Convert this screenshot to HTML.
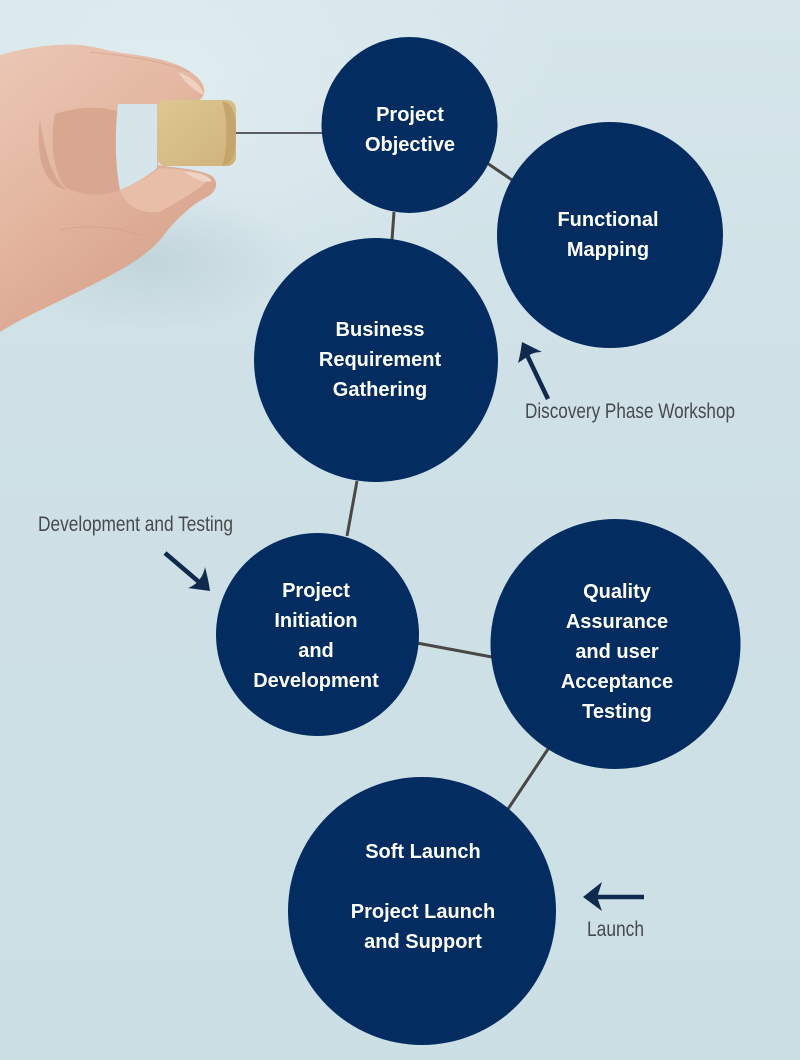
<!DOCTYPE html>
<html>
<head>
<meta charset="utf-8">
<style>
html,body{margin:0;padding:0;}
body{width:800px;height:1060px;overflow:hidden;background:#cde0e6;}
svg{display:block;}
.c{fill:#032c61;}
.t{font-family:"Liberation Sans",Arial,sans-serif;font-weight:bold;font-size:20px;fill:#ffffff;text-anchor:middle;}
.l{font-family:"Liberation Sans Narrow","Liberation Sans",Arial,sans-serif;font-size:21px;fill:#474a4c;}
.k{stroke:#4a4846;stroke-width:3;fill:none;}
.a{stroke:#0f2a4e;stroke-width:4.5;fill:none;stroke-linecap:butt;}
.ah{fill:#0f2a4e;}
</style>
</head>
<body>
<svg width="800" height="1060" viewBox="0 0 800 1060" xmlns="http://www.w3.org/2000/svg">
<defs>
<linearGradient id="bg" x1="0" y1="0" x2="0" y2="1">
<stop offset="0" stop-color="#d6e6eb"/>
<stop offset="0.35" stop-color="#cfe1e7"/>
<stop offset="1" stop-color="#cbdfe5"/>
</linearGradient>
<radialGradient id="glow" cx="0.2" cy="0.15" r="0.5">
<stop offset="0" stop-color="#e2eef1" stop-opacity="0.8"/>
<stop offset="1" stop-color="#e2eef1" stop-opacity="0"/>
</radialGradient>
<linearGradient id="skin" x1="0" y1="0" x2="0.6" y2="1">
<stop offset="0" stop-color="#ebc7b5"/>
<stop offset="0.45" stop-color="#e4b8a2"/>
<stop offset="1" stop-color="#d7a18a"/>
</linearGradient>
<linearGradient id="cube" x1="0" y1="0" x2="1" y2="1">
<stop offset="0" stop-color="#dec792"/>
<stop offset="1" stop-color="#cfb37b"/>
</linearGradient>
<radialGradient id="shadow" cx="0.5" cy="0.5" r="0.5">
<stop offset="0" stop-color="#a9c1c9" stop-opacity="0.45"/>
<stop offset="1" stop-color="#a9c1c9" stop-opacity="0"/>
</radialGradient>
</defs>

<rect x="0" y="0" width="800" height="1060" fill="url(#bg)"/>
<rect x="0" y="0" width="800" height="500" fill="url(#glow)"/>
<ellipse cx="150" cy="260" rx="150" ry="70" fill="url(#shadow)"/>

<!-- hand -->
<path d="M0,55 C25,48 55,43 80,45 C100,47 110,52 130,54 C160,58 184,64 198,78 C208,89 206,100 192,103 L158,104 L158,165 C176,168 200,169 212,176 C220,183 216,193 205,198 C190,206 175,220 160,240 C140,262 110,276 80,291 C50,306 22,318 0,332 Z" fill="url(#skin)"/>
<!-- curled middle finger shading -->
<path d="M55,114 C80,106 105,106 118,112 C116,140 116,168 120,190 C105,197 82,196 66,188 C52,170 50,140 55,114 Z" fill="#d9a78f"/>
<path d="M40,120 C45,150 50,175 66,190 C45,185 35,160 40,120 Z" fill="#cf9a82" opacity="0.6"/>
<!-- gap between fingers -->
<path d="M118,104 L157,104 L157,168 C148,176 134,184 120,190 C116,170 114,140 118,104 Z" fill="#d5e5ea"/>
<!-- thumb -->
<path d="M120,190 C140,182 155,172 160,168 C180,170 200,170 210,178 C200,190 180,200 160,212 C140,214 126,206 120,190 Z" fill="#e8bea9"/>
<path d="M185,172 C198,172 208,176 212,181 C205,183 195,180 185,172 Z" fill="#efd3c5"/>
<!-- fingertip nail -->
<path d="M178,72 C192,77 202,86 204,95 C196,92 186,84 178,72 Z" fill="#efd0c1"/>
<path d="M90,52 C120,55 160,60 190,72" stroke="#c98f77" stroke-width="1" fill="none" opacity="0.4"/>
<path d="M60,230 C80,225 110,225 140,235" stroke="#c98f77" stroke-width="1" fill="none" opacity="0.35"/>

<!-- cube -->
<rect x="157" y="100" width="79" height="66" rx="9" fill="url(#cube)"/>
<path d="M222,101 C232,103 236,112 236,133 C236,155 232,164 222,166 C228,150 228,116 222,101 Z" fill="#c4a56c"/>

<!-- connector from cube -->
<line x1="236" y1="133" x2="323" y2="133" stroke="#5a5e60" stroke-width="2"/>

<!-- connectors -->
<line class="k" x1="487" y1="163" x2="512" y2="180"/>
<line class="k" x1="394" y1="212" x2="392" y2="240"/>
<line class="k" x1="357" y1="481" x2="347" y2="536"/>
<line class="k" x1="417" y1="643" x2="492" y2="657"/>
<line class="k" x1="548" y1="749" x2="508" y2="809"/>

<!-- circles -->
<circle class="c" cx="409.5" cy="125" r="88"/>
<circle class="c" cx="610" cy="235" r="113"/>
<circle class="c" cx="376" cy="360" r="122"/>
<circle class="c" cx="317.5" cy="634.5" r="101.5"/>
<circle class="c" cx="615.5" cy="644" r="125"/>
<circle class="c" cx="422" cy="911" r="134"/>

<!-- circle texts -->
<text class="t" x="410" y="121">Project</text>
<text class="t" x="410" y="151">Objective</text>

<text class="t" x="608" y="226">Functional</text>
<text class="t" x="608" y="256">Mapping</text>

<text class="t" x="380" y="336">Business</text>
<text class="t" x="380" y="366">Requirement</text>
<text class="t" x="380" y="396">Gathering</text>

<text class="t" x="316" y="597">Project</text>
<text class="t" x="316" y="627">Initiation</text>
<text class="t" x="316" y="657">and</text>
<text class="t" x="316" y="687">Development</text>

<text class="t" x="617" y="598">Quality</text>
<text class="t" x="617" y="628">Assurance</text>
<text class="t" x="617" y="658">and user</text>
<text class="t" x="617" y="688">Acceptance</text>
<text class="t" x="617" y="718">Testing</text>

<text class="t" x="423" y="858">Soft Launch</text>
<text class="t" x="423" y="918">Project Launch</text>
<text class="t" x="423" y="948">and Support</text>

<!-- arrows -->
<line class="a" x1="548" y1="399" x2="527" y2="355"/>
<path class="ah" d="M522,342 L542,352 C535,352 530,354 527,357 C524,359 521,361 518,363 C520,356 521,349 522,342 Z"/>

<line class="a" x1="165" y1="553" x2="199" y2="582"/>
<path class="ah" d="M210,591 L188,588 C193,586 197,583 199,580 C202,577 204,572 205,567 C207,575 209,583 210,591 Z"/>

<line class="a" x1="644" y1="897" x2="597" y2="897"/>
<path class="ah" d="M583,897 L602,882 C600,888 599,892 597,897 C599,902 600,906 602,911 Z"/>

<!-- labels -->
<text class="l" x="525" y="418" textLength="210" lengthAdjust="spacingAndGlyphs">Discovery Phase Workshop</text>
<text class="l" x="38" y="531" textLength="195" lengthAdjust="spacingAndGlyphs">Development and Testing</text>
<text class="l" x="587" y="936" textLength="57" lengthAdjust="spacingAndGlyphs">Launch</text>
</svg>
</body>
</html>
